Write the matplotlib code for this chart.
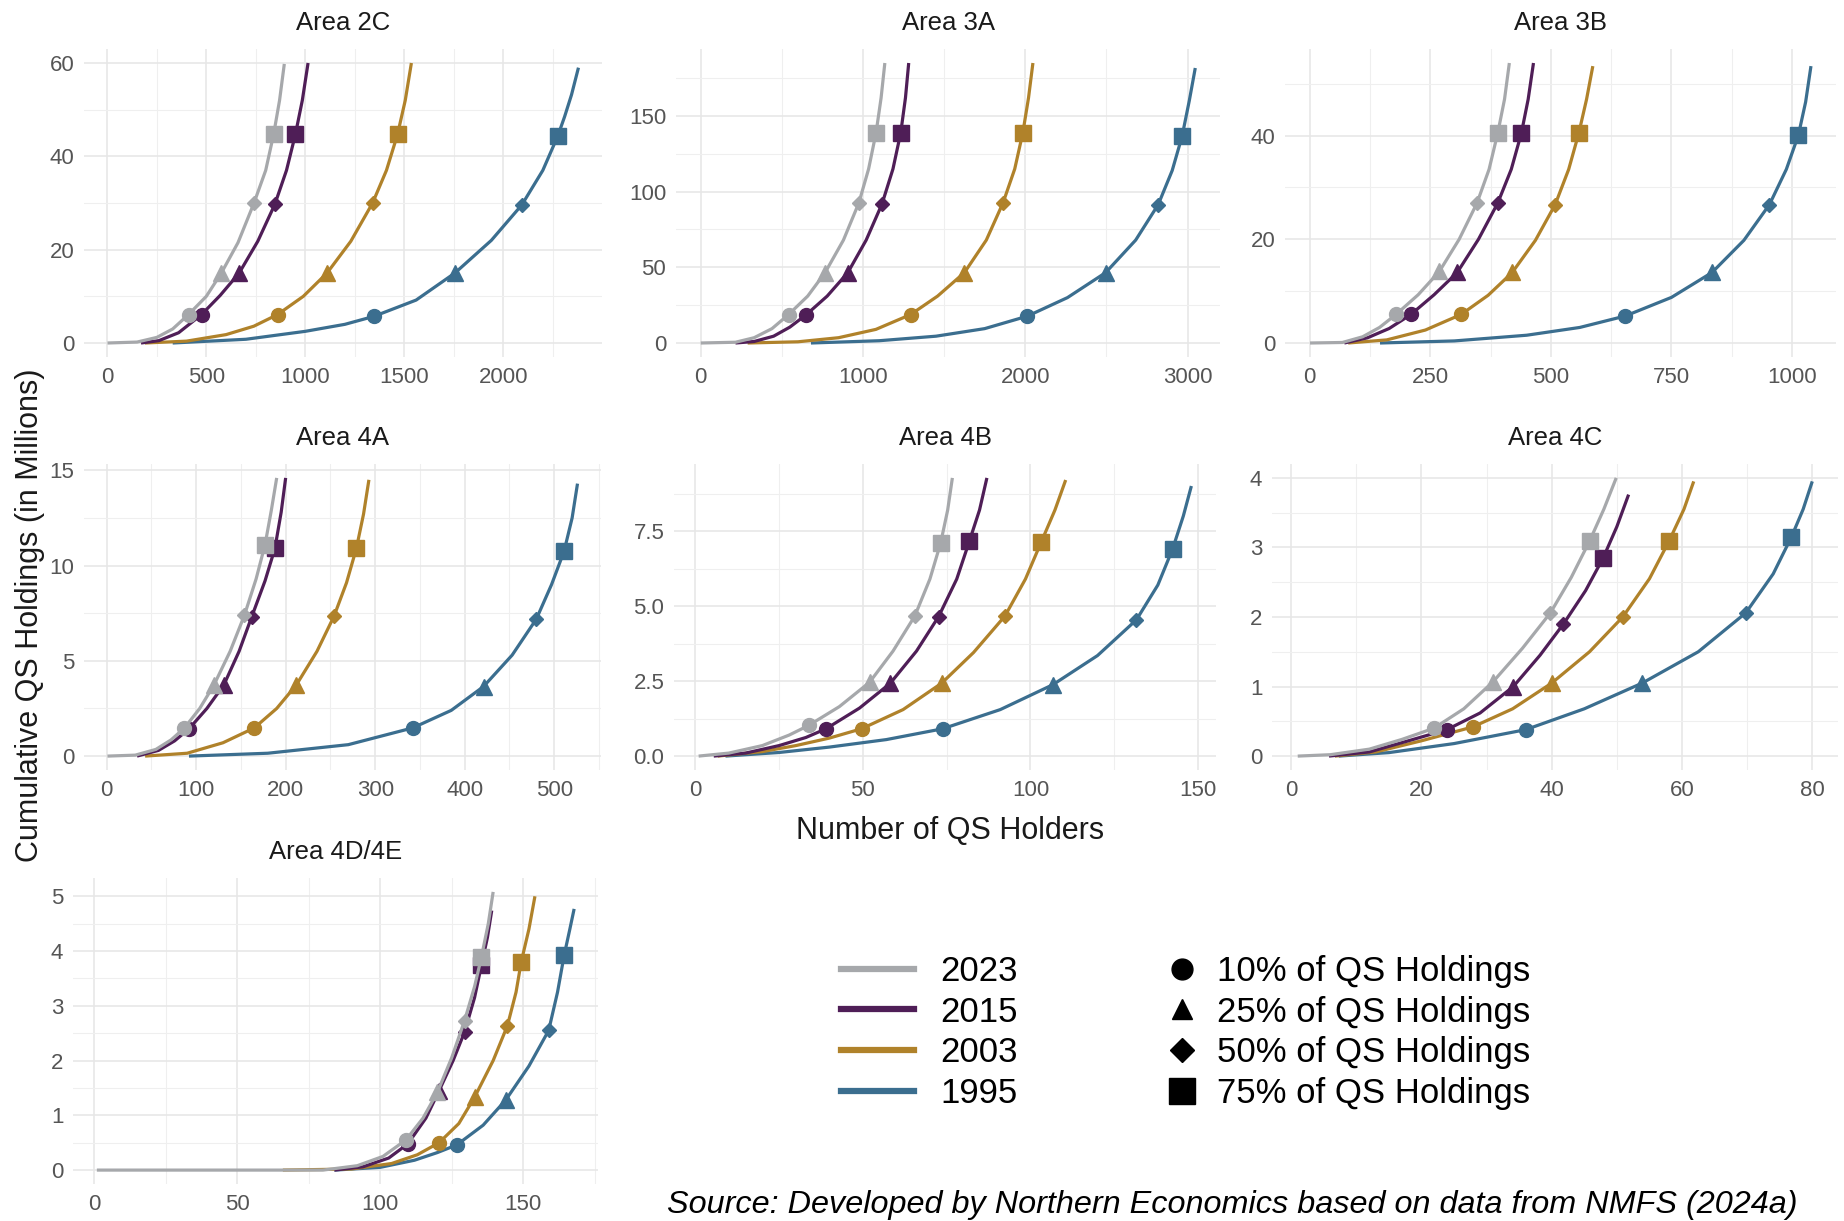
import matplotlib
matplotlib.use('Agg')
import matplotlib.pyplot as plt
from matplotlib import font_manager
from matplotlib.lines import Line2D
from matplotlib.ticker import FixedLocator

names = {f.name for f in font_manager.fontManager.ttflist}
plt.rcParams['font.family'] = ['Liberation Sans', 'DejaVu Sans']
narrow = 'Liberation Sans Narrow' in names

years = ['2023', '2015', '2003', '1995']
colors = ['#a6a8ab', '#4f1e57', '#b0822a', '#3b6e8f']
shape_labels = ['10% of QS Holdings', '25% of QS Holdings', '50% of QS Holdings', '75% of QS Holdings']

# ---- Area 2C ----
x_2c = [[1, 150, 250, 330, 410, 500, 576, 660, 740, 800, 840, 870, 894],
        [170, 260, 360, 476, 570, 666, 760, 846, 905, 950, 985, 1014],
        [190, 400, 600, 740, 860, 990, 1110, 1230, 1340, 1410, 1466, 1505, 1536],
        [330, 700, 1000, 1200, 1346, 1560, 1756, 1940, 2094, 2200, 2276, 2310, 2345, 2380]]
y_2c = [[0, 0.2, 1.2, 3.0, 6.1, 10.0, 15.0, 21.5, 29.9, 37.0, 44.7, 52.0, 59.8],
        [0, 0.5, 2.2, 6.1, 10.2, 15.0, 21.8, 29.7, 37.0, 44.7, 52.0, 60.0],
        [0, 0.4, 1.8, 3.6, 6.1, 10.0, 15.0, 21.8, 30.0, 37.0, 44.7, 52.0, 60.0],
        [0, 0.8, 2.5, 4.0, 5.7, 9.2, 15.0, 22.0, 29.6, 37.0, 44.4, 48.5, 53.2, 59.0]]
mx_2c = [[410, 576, 740, 840], [476, 666, 846, 950], [860, 1110, 1340, 1466], [1346, 1756, 2094, 2276]]
my_2c = [[6.1, 15, 29.9, 44.7], [6.1, 15, 29.7, 44.7], [6.1, 15, 30, 44.7], [5.7, 15, 29.6, 44.4]]

# ---- Area 3A ----
x_3a = [[1, 215, 330, 440, 542, 660, 767, 880, 975, 1035, 1081, 1112, 1135],
        [215, 330, 450, 550, 652, 780, 907, 1020, 1118, 1185, 1233, 1262, 1282],
        [290, 600, 850, 1080, 1294, 1460, 1625, 1760, 1863, 1935, 1985, 2020, 2047],
        [680, 1100, 1450, 1750, 2012, 2260, 2495, 2680, 2819, 2905, 2966, 3010, 3047]]
y_3a = [[0, 0.5, 3.5, 9.5, 18.8, 31, 46.5, 68, 92.6, 115, 139, 162, 185],
        [0, 1.0, 4.5, 10.5, 18.8, 31, 46.5, 68, 92, 115, 139, 162, 185],
        [0, 0.8, 3.5, 9, 18.8, 31, 46.5, 68, 92.6, 115, 139, 162, 185],
        [0, 1.5, 4.5, 9.5, 17.7, 30, 46.5, 68, 91.5, 114, 136.7, 160, 181.7]]
mx_3a = [[542, 767, 975, 1081], [652, 907, 1118, 1233], [1294, 1625, 1863, 1985], [2012, 2495, 2819, 2966]]
my_3a = [[18.8, 46.5, 92.6, 139], [18.8, 46.5, 92, 139], [18.8, 46.5, 92.6, 139], [17.7, 46.5, 91.5, 136.7]]

# ---- Area 3B ----
x_3b = [[1, 68, 110, 145, 179, 225, 269, 310, 347, 372, 390, 404, 414],
        [72, 120, 165, 210, 258, 306, 350, 390, 418, 439, 453, 464],
        [80, 160, 240, 314, 370, 420, 468, 509, 537, 558, 574, 587],
        [146, 300, 450, 560, 654, 750, 834, 900, 953, 988, 1013, 1028, 1039]]
y_3b = [[0, 0.1, 1.2, 3.0, 5.5, 9.3, 13.8, 20, 27, 33.5, 40.5, 47, 54],
        [0, 1.0, 2.8, 5.5, 9.3, 13.6, 20, 27, 33.5, 40.5, 47, 54],
        [0, 0.6, 2.5, 5.5, 9.2, 13.6, 19.8, 26.7, 33.5, 40.5, 47, 53.4],
        [0, 0.4, 1.5, 3.0, 5.2, 8.8, 13.6, 19.8, 26.7, 33.5, 40.1, 46.5, 53.4]]
mx_3b = [[179, 269, 347, 390], [210, 306, 390, 439], [314, 420, 509, 558], [654, 834, 953, 1013]]
my_3b = [[5.5, 13.8, 27, 40.5], [5.5, 13.6, 27, 40.5], [5.5, 13.6, 26.7, 40.5], [5.2, 13.6, 26.7, 40.1]]

# ---- Area 4A ----
x_4a = [[1, 32, 55, 72, 87, 104, 120, 138, 154, 167, 177, 184, 190],
        [34, 58, 76, 92, 112, 131, 148, 162, 177, 188, 195, 200],
        [43, 90, 130, 165, 190, 212, 235, 254, 268, 279, 287, 293],
        [92, 180, 270, 342, 385, 421, 453, 480, 497, 511, 520, 526]]
y_4a = [[0, 0.05, 0.35, 0.85, 1.48, 2.5, 3.74, 5.5, 7.4, 9.3, 11.1, 12.9, 14.6],
        [0, 0.3, 0.8, 1.43, 2.5, 3.74, 5.5, 7.3, 9.2, 10.9, 12.8, 14.6],
        [0, 0.15, 0.7, 1.48, 2.5, 3.74, 5.5, 7.34, 9.1, 10.9, 12.7, 14.5],
        [0, 0.15, 0.6, 1.48, 2.4, 3.65, 5.3, 7.19, 9.0, 10.75, 12.5, 14.3]]
mx_4a = [[87, 120, 154, 177], [92, 131, 162, 188], [165, 212, 254, 279], [342, 421, 480, 511]]
my_4a = [[1.48, 3.74, 7.4, 11.1], [1.43, 3.74, 7.3, 10.9], [1.48, 3.74, 7.34, 10.9], [1.48, 3.65, 7.19, 10.75]]

# ---- Area 4B ----
x_4b = [[1, 10, 20, 28, 33.8, 43, 52, 59, 65.5, 70, 73.2, 75.3, 76.7],
        [5.5, 15, 25, 33, 39, 49, 58.2, 66, 72.6, 78, 81.8, 84.8, 87],
        [6.7, 20, 30, 40, 49.6, 62, 73.5, 83, 92.4, 98.5, 103.2, 107.3, 110.5],
        [9, 25, 40, 57, 73.8, 91, 106.7, 120, 131.6, 138, 142.4, 145.6, 148]]
y_4b = [[0, 0.1, 0.35, 0.7, 1.02, 1.65, 2.46, 3.5, 4.67, 5.9, 7.1, 8.2, 9.27],
        [0, 0.1, 0.35, 0.62, 0.91, 1.6, 2.43, 3.5, 4.65, 5.9, 7.17, 8.2, 9.27],
        [0, 0.15, 0.35, 0.6, 0.91, 1.55, 2.43, 3.45, 4.67, 5.9, 7.13, 8.2, 9.2],
        [0, 0.12, 0.3, 0.55, 0.91, 1.55, 2.38, 3.35, 4.54, 5.7, 6.9, 8.0, 9.0]]
mx_4b = [[33.8, 52, 65.5, 73.2], [39, 58.2, 72.6, 81.8], [49.6, 73.5, 92.4, 103.2], [73.8, 106.7, 131.6, 142.4]]
my_4b = [[1.02, 2.46, 4.67, 7.1], [0.91, 2.43, 4.65, 7.17], [0.91, 2.43, 4.67, 7.13], [0.91, 2.38, 4.54, 6.9]]

# ---- Area 4C ----
x_4c = [[1, 6, 12, 17, 21.9, 26.5, 31, 35.5, 39.8, 43, 45.8, 48, 49.9],
        [5.8, 12, 18, 23.9, 29, 34.1, 38.2, 41.8, 45.2, 47.9, 50, 51.8],
        [6.7, 13, 20, 27.9, 34, 40, 45.8, 50.9, 55, 58, 60.3, 61.8],
        [7.3, 15, 25, 36, 45, 53.9, 62.5, 69.8, 74, 76.8, 78.6, 80]]
y_4c = [[0, 0.02, 0.1, 0.24, 0.4, 0.68, 1.07, 1.55, 2.06, 2.57, 3.09, 3.55, 4.0],
        [0, 0.06, 0.22, 0.38, 0.62, 1.0, 1.45, 1.9, 2.38, 2.85, 3.3, 3.76],
        [0, 0.06, 0.22, 0.42, 0.68, 1.05, 1.5, 2.0, 2.55, 3.09, 3.55, 3.95],
        [0, 0.05, 0.18, 0.38, 0.68, 1.05, 1.5, 2.06, 2.62, 3.15, 3.55, 3.95]]
mx_4c = [[21.9, 31, 39.8, 45.8], [23.9, 34.1, 41.8, 47.9], [27.9, 40, 50.9, 58], [36, 53.9, 69.8, 76.8]]
my_4c = [[0.4, 1.07, 2.06, 3.09], [0.38, 1.0, 1.9, 2.85], [0.42, 1.05, 2.0, 3.09], [0.38, 1.05, 2.06, 3.15]]

# ---- Area 4D/4E ----
x_4d = [[1, 80, 92, 101, 109, 115, 120, 125, 129.5, 133, 135.4, 137.8, 139.5],
        [84, 94, 103, 109.7, 116, 120.6, 125.5, 129.5, 133, 135.4, 137.5, 139],
        [66, 90, 104, 113, 120.6, 127.5, 133, 139.5, 144.5, 147.5, 149.3, 152, 154.1],
        [84, 100, 112, 120, 126.8, 136, 143.9, 152, 158.9, 162, 164.3, 166.3, 167.8]]
y_4d = [[0, 0.0, 0.08, 0.25, 0.55, 0.95, 1.42, 2.05, 2.73, 3.35, 3.89, 4.5, 5.08],
        [0, 0.06, 0.22, 0.48, 0.95, 1.45, 2.0, 2.52, 3.15, 3.74, 4.25, 4.74],
        [0, 0.02, 0.12, 0.28, 0.5, 0.85, 1.33, 2.0, 2.64, 3.25, 3.8, 4.4, 5.0],
        [0, 0.05, 0.18, 0.32, 0.46, 0.82, 1.28, 1.9, 2.55, 3.25, 3.92, 4.4, 4.77]]
mx_4d = [[109, 120, 129.5, 135.4], [109.7, 120.6, 129.5, 135.4], [120.6, 133, 144.5, 149.3], [126.8, 143.9, 158.9, 164.3]]
my_4d = [[0.55, 1.42, 2.73, 3.89], [0.48, 1.45, 2.52, 3.74], [0.5, 1.33, 2.64, 3.8], [0.46, 1.28, 2.55, 3.92]]

W, H = 1844, 1221
fig = plt.figure(figsize=(W / 100, H / 100), dpi=100)


def box(l, t, r, b):
    return [l / W, 1 - b / H, (r - l) / W, (b - t) / H]


# title, x data, y data, marker x, marker y, x ticks, y ticks, y labels, panel box (px)
panels = [
    ('Area 2C', x_2c, y_2c, mx_2c, my_2c, [0, 500, 1000, 1500, 2000], [0, 20, 40, 60], None, (84, 49, 602, 357)),
    ('Area 3A', x_3a, y_3a, mx_3a, my_3a, [0, 1000, 2000, 3000], [0, 50, 100, 150], None, (676, 49, 1220, 357)),
    ('Area 3B', x_3b, y_3b, mx_3b, my_3b, [0, 250, 500, 750, 1000], [0, 20, 40], None, (1285, 49, 1836, 357)),
    ('Area 4A', x_4a, y_4a, mx_4a, my_4a, [0, 100, 200, 300, 400, 500], [0, 5, 10, 15], None, (84, 464, 601, 770)),
    ('Area 4B', x_4b, y_4b, mx_4b, my_4b, [0, 50, 100, 150], [0, 2.5, 5.0, 7.5], ['0.0', '2.5', '5.0', '7.5'], (674, 464, 1216, 770)),
    ('Area 4C', x_4c, y_4c, mx_4c, my_4c, [0, 20, 40, 60, 80], [0, 1, 2, 3, 4], None, (1272, 464, 1838, 770)),
    ('Area 4D/4E', x_4d, y_4d, mx_4d, my_4d, [0, 50, 100, 150], [0, 1, 2, 3, 4, 5], None, (73, 878, 598, 1184)),
]

shapes = ['o', '^', 'D', 's']
msizes = [10, 12, 7.5, 12]

for title, xs, ys, mxs, mys, xt, yt, ylab, pb in panels:
    ax = fig.add_axes(box(*pb))
    for i in reversed(range(4)):
        ax.plot(xs[i], ys[i], color=colors[i], lw=2.3, solid_capstyle='butt',
                solid_joinstyle='round', zorder=3 + (3 - i))
        for k in range(4):
            ax.plot(mxs[i][k], mys[i][k], ls='', marker=shapes[k], ms=msizes[k],
                    color=colors[i], mec=colors[i], zorder=3.5 + (3 - i))
    ax.margins(0.05)
    ax.xaxis.set_major_locator(FixedLocator(xt))
    ax.yaxis.set_major_locator(FixedLocator(yt))
    dx = (xt[1] - xt[0]) / 2
    dy = (yt[1] - yt[0]) / 2
    ax.xaxis.set_minor_locator(FixedLocator([xt[0] - dx] + [v + dx for v in xt]))
    ax.yaxis.set_minor_locator(FixedLocator([yt[0] - dy] + [v + dy for v in yt]))
    if ylab:
        ax.set_yticklabels(ylab)
    ax.grid(which='major', color='#e6e6e6', lw=1.1)
    ax.grid(which='minor', color='#efefef', lw=0.8)
    ax.set_axisbelow(True)
    for s in ax.spines.values():
        s.set_visible(False)
    ax.tick_params(which='both', length=0, labelsize=16, labelcolor='#555555', pad=7)
    ax.set_title(title, fontsize=18.5, color='#1a1a1a', pad=14)

fig.text(30 / W, 1 - 615 / H, 'Cumulative QS Holdings (in Millions)', rotation=90,
         ha='center', va='center', fontsize=22, color='#1a1a1a')
fig.text(950 / W, 1 - 831 / H, 'Number of QS Holders', ha='center', va='center',
         fontsize=22, color='#1a1a1a')

year_handles = [Line2D([], [], color=c, lw=4.5) for c in colors]
leg1 = fig.legend(year_handles, years, loc='upper left', bbox_to_anchor=(841 / W, 1 - 955 / H),
                  frameon=False, fontsize=25, handlelength=2.1, handletextpad=0.75,
                  labelspacing=0.22, borderpad=0, borderaxespad=0)
shape_handles = [Line2D([], [], ls='', marker=m, color='black', ms=s)
                 for m, s in zip(shapes, [15, 15, 12, 19])]
leg2 = fig.legend(shape_handles, shape_labels, loc='upper left', bbox_to_anchor=(1165 / W, 1 - 955 / H),
                  frameon=False, fontsize=25, handlelength=1.0, handletextpad=0.5,
                  labelspacing=0.22, borderpad=0, borderaxespad=0)

src = 'Source: Developed by Northern Economics based on data from NMFS (2024a)'
if narrow:
    fig.text(667 / W, 1 - 1213 / H, src, fontsize=27, style='italic', va='baseline',
             family=['Liberation Sans Narrow', 'DejaVu Sans'])
else:
    fig.text(667 / W, 1 - 1213 / H, src, fontsize=23.3, style='italic', va='baseline')

fig.savefig('out.png', dpi=100)
